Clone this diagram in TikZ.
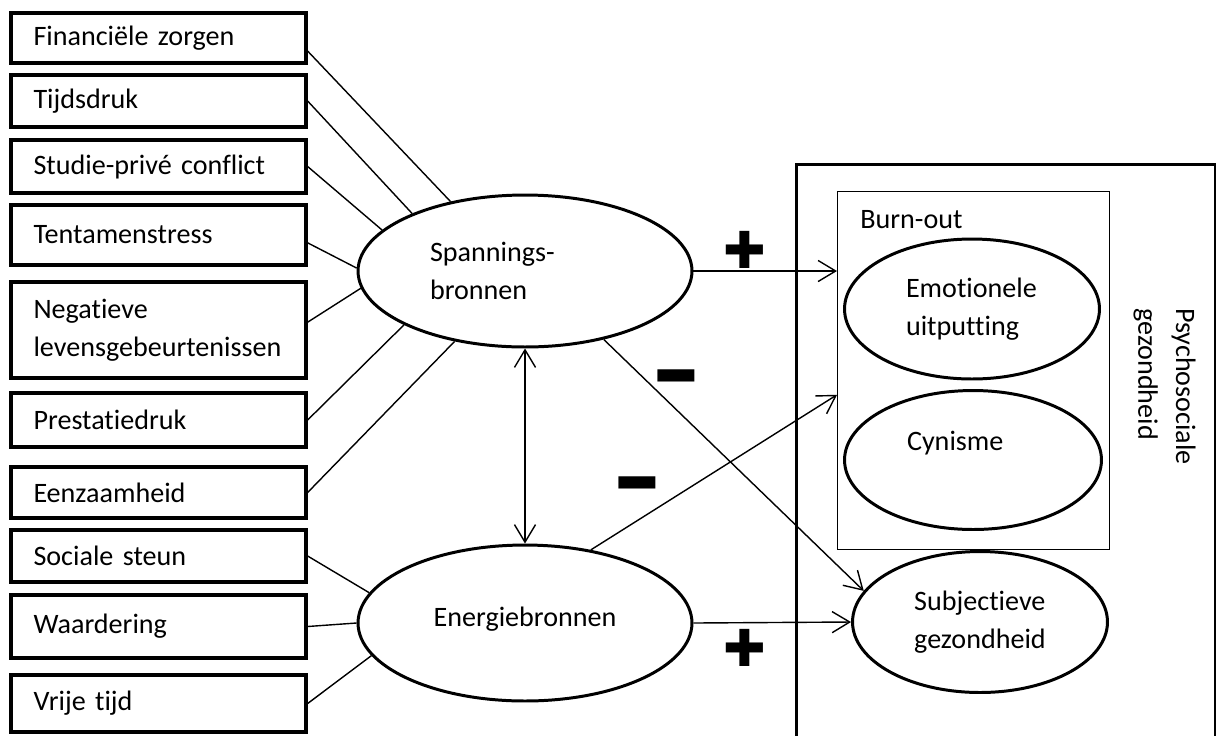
\documentclass[tikz,border=0pt]{standalone}
\usepackage{fontspec}
\setmainfont{Carlito}[Ligatures=NoCommon]
\newfontfamily\symfont{DejaVu Sans}
\usepackage{tikz}
\usetikzlibrary{arrows.meta,shapes.geometric}

\begin{document}
\begin{tikzpicture}[x=0.02cm, y=-0.02cm,
  every node/.style={font=\fontsize{16}{21.5}\selectfont},
  box/.style={draw, line width=1.9pt, minimum width=5.9cm, text width=5.0cm, inner xsep=0.45cm, inner ysep=0pt, align=left},
  oval/.style={draw, ellipse, line width=1.7pt, inner sep=0pt, align=left},
  frame/.style={draw, anchor=north west, inner sep=0pt},
  link/.style={line width=0.8pt},
  >={Straight Barb[length=10pt,width=12pt]},
  arr/.style={->, line width=0.8pt},
  sign/.style={font=\symfont\fontsize{29}{29}\selectfont, inner sep=0pt},
]
\useasboundingbox (0,0) rectangle (1216,735);

% Spanningsbronnen
\node[box, minimum height=1.0cm] (fin) at (158.5,38) {Financiële zorgen};
\node[box, minimum height=1.04cm] (tijd) at (158.5,101) {Tijdsdruk};
\node[box, minimum height=1.06cm] (studie) at (158.5,166.5) {Studie-privé conflict};
\node[box, minimum height=1.2cm] (tent) at (158.5,235) {Tentamenstress};
\node[box, minimum height=1.92cm] (neg) at (158.5,330) {Negatieve\\levensgebeurtenissen};
\node[box, minimum height=1.08cm] (prest) at (158.5,420) {Prestatiedruk};
\node[box, minimum height=1.02cm] (eenz) at (158.5,492.5) {Eenzaamheid};

% Energiebronnen
\node[box, minimum height=1.04cm] (soc) at (158.5,556) {Sociale steun};
\node[box, minimum height=1.26cm] (waard) at (158.5,626.5) {Waardering};
\node[box, minimum height=1.14cm] (vrij) at (158.5,703.5) {Vrije tijd};

\node[oval, minimum width=6.68cm, minimum height=3.04cm, text width=3.8cm] (span) at (525,271) {Spannings-\\bronnen};
\node[oval, minimum width=6.68cm, minimum height=3.12cm] (ener) at (525,623) {Energiebronnen\\[-0.9em]\mbox{}};

% Psychosociale gezondheid
\node[frame, line width=1.9pt, minimum width=8.38cm, minimum height=12cm] (psy) at (795,163) {};
\node[rotate=-90, anchor=north west, inner sep=0pt, align=left] (psylbl) at (1196,308) {Psychosociale\\gezondheid};
\node[frame, line width=0.8pt, minimum width=5.44cm, minimum height=7.16cm] (burn) at (837,191) {};
\node[anchor=base west, inner sep=0pt] (burnlbl) at (860,228) {Burn-out};
\node[oval, minimum width=5.1cm, minimum height=2.8cm, text width=2.64cm] (emo) at (972,309) {Emotionele\\uitputting};
\node[oval, minimum width=5.14cm, minimum height=2.78cm, text width=2.64cm] (cyn) at (973,460) {Cynisme\\\mbox{}};
\node[oval, minimum width=5.1cm, minimum height=2.82cm] (subj) at (980,622) {Subjectieve\\gezondheid};

\draw[link] (fin.-5) -- (span.137);
\draw[link] (tijd.east) -- (span.153);
\draw[link] (studie.east) -- (span.164);
\draw[link] (tent.-3) -- (span.179);
\draw[link] (neg.3) -- (span.186);
\draw[link] (prest.east) -- (span.204);
\draw[link] (eenz.east) -- (span.225);
\draw[link] (soc.east) -- (ener.169);
\draw[link] (waard.east) -- (ener.west);
\draw[link] (vrij.east) -- (ener.192);

\draw[arr, <->] (span.south) -- (ener.north);
\draw[arr] (span.east) -- (span.east -| burn.west);
\draw[arr] (span.-41) -- (subj.165);
\draw[arr] (ener.48) -- (burn.190);
\draw[arr] (ener.east) -- (subj.west);

% plus en min
\node[sign] (plus1) at (745,250) {✚};
\node[sign] (plus2) at (745,648) {✚};
\node[sign] (min1) at (676,377) {\scalebox{0.95}[0.65]{▬}};
\node[sign] (min2) at (637,484) {\scalebox{0.95}[0.65]{▬}};
\end{tikzpicture}
\end{document}
